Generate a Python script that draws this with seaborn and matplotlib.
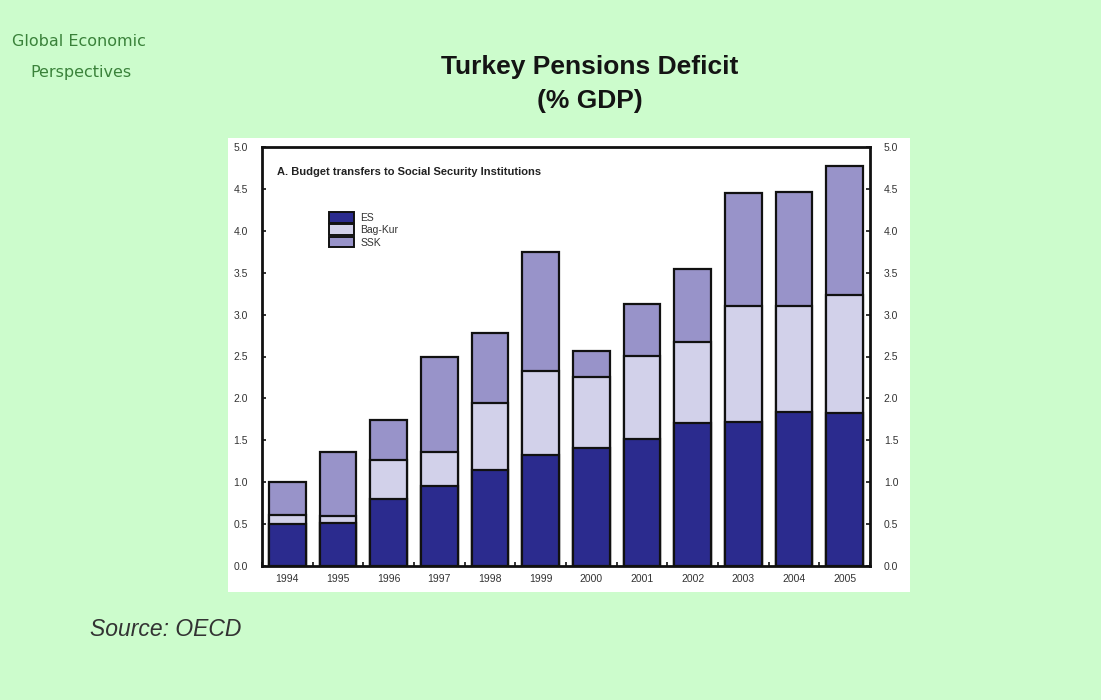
import matplotlib
matplotlib.use("Agg")
import matplotlib.pyplot as plt
import seaborn as sns
import numpy as np
import pandas as pd
from matplotlib.patches import Patch
from matplotlib.ticker import FixedLocator, FormatStrFormatter

years = ["1994", "1995", "1996", "1997", "1998", "1999", "2000", "2001", "2002", "2003", "2004", "2005"]
es = [0.50, 0.51, 0.80, 0.95, 1.15, 1.32, 1.41, 1.52, 1.71, 1.72, 1.84, 1.82]
bag_kur = [0.11, 0.09, 0.47, 0.41, 0.80, 1.01, 0.84, 0.99, 0.96, 1.38, 1.26, 1.41]
ssk = [0.39, 0.76, 0.47, 1.13, 0.83, 1.42, 0.32, 0.62, 0.87, 1.35, 1.36, 1.54]
series_names = ["ES", "Bag-Kur", "SSK"]
y_ticks = [0.0, 0.5, 1.0, 1.5, 2.0, 2.5, 3.0, 3.5, 4.0, 4.5, 5.0]

df = pd.DataFrame({"year": years, "ES": es, "Bag-Kur": bag_kur, "SSK": ssk})
df["cum_es"] = df["ES"]
df["cum_bk"] = df["ES"] + df["Bag-Kur"]
df["cum_all"] = df["cum_bk"] + df["SSK"]

c_es = "#2b2b8e"
c_bk = "#d2d1ea"
c_ssk = "#9893c9"
bg = "#ccfccc"

sns.set_theme(style="white")
plt.rcParams["font.family"] = ["Liberation Sans", "DejaVu Sans"]

fig = plt.figure(figsize=(11.01, 7.0), dpi=100)
fig.patch.set_facecolor(bg)

# white panel behind the chart
panel = fig.add_axes([228 / 1101, 1 - 592 / 700, (910 - 228) / 1101, (592 - 138) / 700], zorder=-5)
panel.set_facecolor("white")
panel.set_xticks([])
panel.set_yticks([])
for s in panel.spines.values():
    s.set_visible(False)

ax = fig.add_axes([262 / 1101, 1 - 566 / 700, (870 - 262) / 1101, (566 - 147) / 700], zorder=1)
ax.set_facecolor("white")

common = dict(edgecolor="#111111", linewidth=1.6, width=0.73, saturation=1, ax=ax)
sns.barplot(data=df, x="year", y="cum_all", color=c_ssk, **common)
sns.barplot(data=df, x="year", y="cum_bk", color=c_bk, **common)
sns.barplot(data=df, x="year", y="cum_es", color=c_es, **common)

ax.set_xlim(-0.5, len(years) - 0.5)
ax.set_ylim(0, 5.0)
ax.set_xlabel("")
ax.set_ylabel("")
ax.yaxis.set_major_locator(FixedLocator(y_ticks))
ax.yaxis.set_major_formatter(FormatStrFormatter("%.1f"))
ax.tick_params(axis="y", which="both", left=True, right=True, labelleft=True, labelright=True,
               direction="in", length=3, width=1.2, color="#111111",
               labelsize=7.5, labelcolor="#333333", pad=10)
ax.tick_params(axis="x", bottom=False, labelsize=7.5, labelcolor="#333333", pad=0)
ax.xaxis.set_minor_locator(FixedLocator(np.arange(-0.5, len(years), 1.0)))
ax.tick_params(axis="x", which="minor", bottom=True, direction="in", length=3, width=1.2, color="#111111")
for s in ax.spines.values():
    s.set_visible(True)
    s.set_color("#111111")
    s.set_linewidth(2.0)

ax.text(0.025, 0.940, "A. Budget transfers to Social Security Institutions", transform=ax.transAxes,
        fontsize=8, fontweight="bold", color="#222222", va="center", ha="left")

handles = [Patch(facecolor=c, edgecolor="#111111", linewidth=1.4) for c in (c_es, c_bk, c_ssk)]
leg = ax.legend(handles, series_names, loc="upper left", bbox_to_anchor=(0.11, 0.845), frameon=False,
                fontsize=7.5, handlelength=2.4, handleheight=1.2, labelspacing=0.15, handletextpad=0.6,
                borderaxespad=0, borderpad=0)
for t in leg.get_texts():
    t.set_color("#333333")

fig.text(590 / 1101, 1 - 67 / 700, "Turkey Pensions Deficit", ha="center", va="center",
         fontsize=19, fontweight="bold", color="#141414")
fig.text(590 / 1101, 1 - 101 / 700, "(% GDP)", ha="center", va="center",
         fontsize=19, fontweight="bold", color="#141414")

fig.text(12 / 1101, 1 - 42 / 700, "Global Economic", ha="left", va="center", fontsize=11.5,
         color="#3a823a", family=["Liberation Sans Narrow", "DejaVu Sans"])
fig.text(30 / 1101, 1 - 73 / 700, "Perspectives", ha="left", va="center", fontsize=11.5,
         color="#3a823a", family=["Liberation Sans Narrow", "DejaVu Sans"])

fig.text(90 / 1101, 1 - 629 / 700, "Source: OECD", ha="left", va="center", fontsize=16.5,
         style="italic", color="#333333")

fig.savefig("out.png", dpi=100, facecolor=bg)
